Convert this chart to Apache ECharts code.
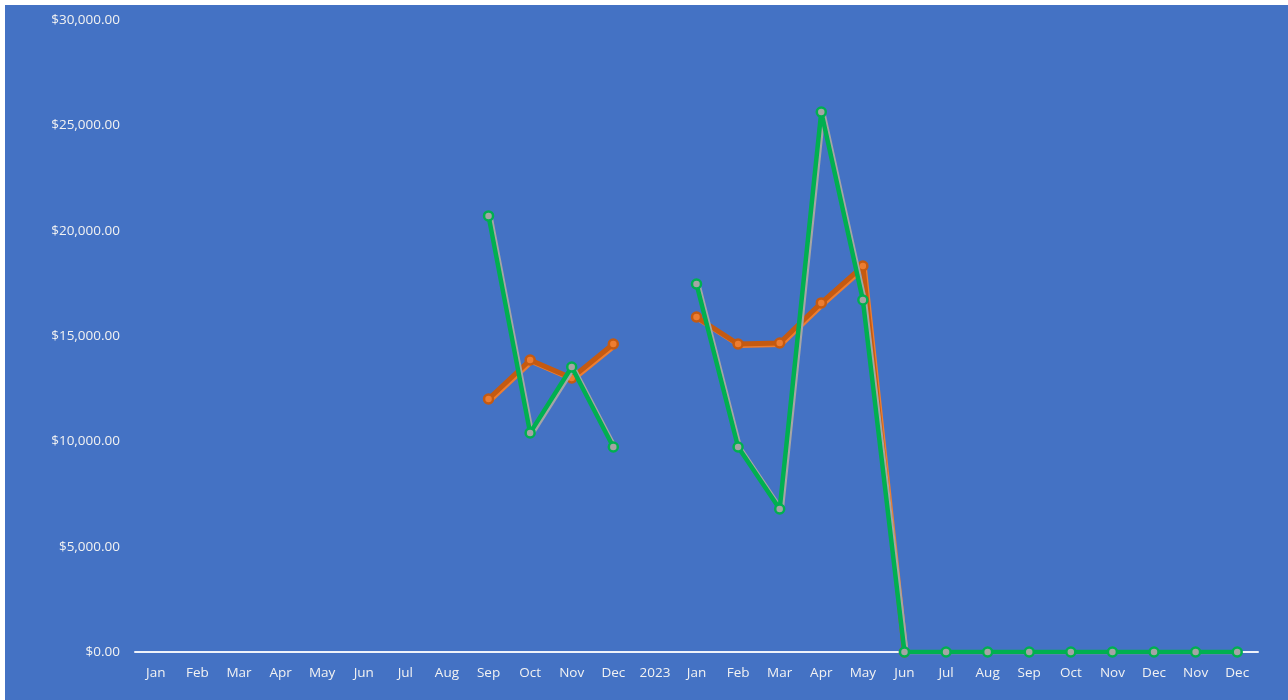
<!DOCTYPE html>
<html>
<head>
<meta charset="utf-8">
<script src="https://cdn.jsdelivr.net/npm/echarts@6/dist/echarts.min.js"></script>
<style>
html,body{margin:0;padding:0;background:#ffffff;}
#chart{position:absolute;left:5px;top:5px;width:1283px;height:695px;background:#4472C4;}
</style>
</head>
<body>
<div id="chart"></div>
<script>
const categories = ['Jan','Feb','Mar','Apr','May','Jun','Jul','Aug','Sep','Oct','Nov','Dec','2023','Jan','Feb','Mar','Apr','May','Jun','Jul','Aug','Sep','Oct','Nov','Dec','Nov','Dec'];
const orangeValues = [null,null,null,null,null,null,null,null,12010,13860,13010,14620,null,15900,14620,14670,16570,18320,0,null,null,null,null,null,null,null,null];
const greenValues = [null,null,null,null,null,null,null,null,20700,10400,13530,9730,null,17470,9730,6790,25630,16710,0,0,0,0,0,0,0,0,0];
const yTicks = [0,5000,10000,15000,20000,25000,30000];

const chart = echarts.init(document.getElementById('chart'));
const fmt = v => '$' + v.toLocaleString('en-US',{minimumFractionDigits:2,maximumFractionDigits:2});
chart.setOption({
  animation:false,
  backgroundColor:'#4472C4',
  grid:{left:130,right:30,top:15,bottom:48},
  xAxis:{
    type:'category',
    data:categories,
    boundaryGap:true,
    axisLine:{show:true,lineStyle:{color:'#EEF2FA',width:2}},
    axisTick:{show:false},
    axisLabel:{color:'#F2F2F2',fontSize:13.5,margin:14,interval:0,fontFamily:'Open Sans'}
  },
  yAxis:{
    type:'value',
    min:yTicks[0],
    max:yTicks[yTicks.length-1],
    interval:5000,
    splitLine:{show:false},
    axisLine:{show:false},
    axisTick:{show:false},
    axisLabel:{color:'#F2F2F2',fontSize:13.5,margin:15,fontFamily:'Open Sans',formatter:fmt}
  },
  series:[
    {
      type:'line',
      data:orangeValues,
      connectNulls:false,
      symbol:'circle',
      symbolSize:9,
      itemStyle:{color:'#ED7D31',borderColor:'#C55A11',borderWidth:2.5},
      lineStyle:{color:'#C55A11',width:5,shadowColor:'#ED7D31',shadowBlur:0,shadowOffsetX:1.5,shadowOffsetY:1.5},
      z:2
    },
    {
      type:'line',
      data:greenValues,
      connectNulls:false,
      symbol:'circle',
      symbolSize:9,
      itemStyle:{color:'#A5A5A5',borderColor:'#00B050',borderWidth:2.5},
      lineStyle:{color:'#00B050',width:4.5,shadowColor:'#A5A5A5',shadowBlur:0,shadowOffsetX:2,shadowOffsetY:1},
      z:3
    }
  ]
});
</script>
</body>
</html>
